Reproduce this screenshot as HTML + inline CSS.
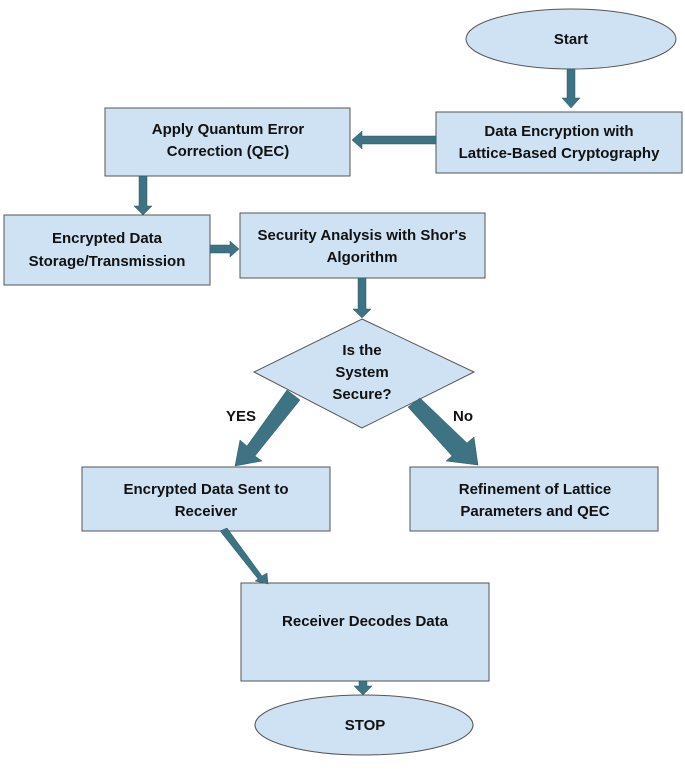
<!DOCTYPE html>
<html><head><style>
body{margin:0;background:#fff}
svg text{font-family:"Liberation Sans",Arial,sans-serif;font-weight:bold;font-size:15px;fill:#111;text-anchor:middle}
</style></head><body>
<svg width="685" height="766" viewBox="0 0 685 766">
<g fill="#cfe2f3" stroke="#555" stroke-width="1">
<ellipse cx="571" cy="39" rx="105" ry="30"/>
<rect x="436" y="112" width="246" height="61"/>
<rect x="105" y="108" width="245" height="68"/>
<rect x="4" y="215" width="206" height="70"/>
<rect x="240" y="213" width="245" height="65"/>
<polygon points="362,319 474,372 362,428 254,372"/>
<rect x="82" y="467" width="248" height="64"/>
<rect x="410" y="467" width="248" height="64"/>
<rect x="241" y="583" width="248" height="98"/>
<ellipse cx="364" cy="725" rx="109" ry="30"/>
</g>
<g fill="#3d7382" stroke="#2c5a66" stroke-width="0.5">
<polygon points="567,69 575,69 575,98 580,98 571,108 562,98 567,98"/>
<polygon points="436,136 436,144 362,144 362,149 352,140 362,131 362,136"/>
<polygon points="139,176 147,176 147,206 152,206 143,215 134,206 139,206"/>
<polygon points="210,245 230,245 230,241 239,249 230,257 230,253 210,253"/>
<polygon points="358,278 366,278 366,309 371,309 362,318 353,309 358,309"/>
<polygon points="287,390 300,400 255,456 262,461 235,466 240,440 247,446"/>
<polygon points="420,398 408,407 452,456 446,461 478,465 474,437 467,443"/>
<polygon points="220,531 227,528 262,576 267,573 268,584 255,581 258,579"/>
<polygon points="359,681 367,681 367,686 372,686 363,695 354,686 359,686"/>
</g>
<text x="571" y="44">Start</text>
<text x="559" y="136">Data Encryption with</text>
<text x="559" y="158">Lattice-Based Cryptography</text>
<text x="228" y="134">Apply Quantum Error</text>
<text x="228" y="156">Correction (QEC)</text>
<text x="107" y="243">Encrypted Data</text>
<text x="107" y="266">Storage/Transmission</text>
<text x="362" y="240">Security Analysis with Shor's</text>
<text x="362" y="262">Algorithm</text>
<text x="362" y="355">Is the</text>
<text x="362" y="377">System</text>
<text x="362" y="399">Secure?</text>
<text x="241" y="421">YES</text>
<text x="463" y="421">No</text>
<text x="206" y="494">Encrypted Data Sent to</text>
<text x="206" y="516">Receiver</text>
<text x="535" y="494">Refinement of Lattice</text>
<text x="535" y="516">Parameters and QEC</text>
<text x="365" y="626">Receiver Decodes Data</text>
<text x="365" y="730">STOP</text>
</svg>
</body></html>
